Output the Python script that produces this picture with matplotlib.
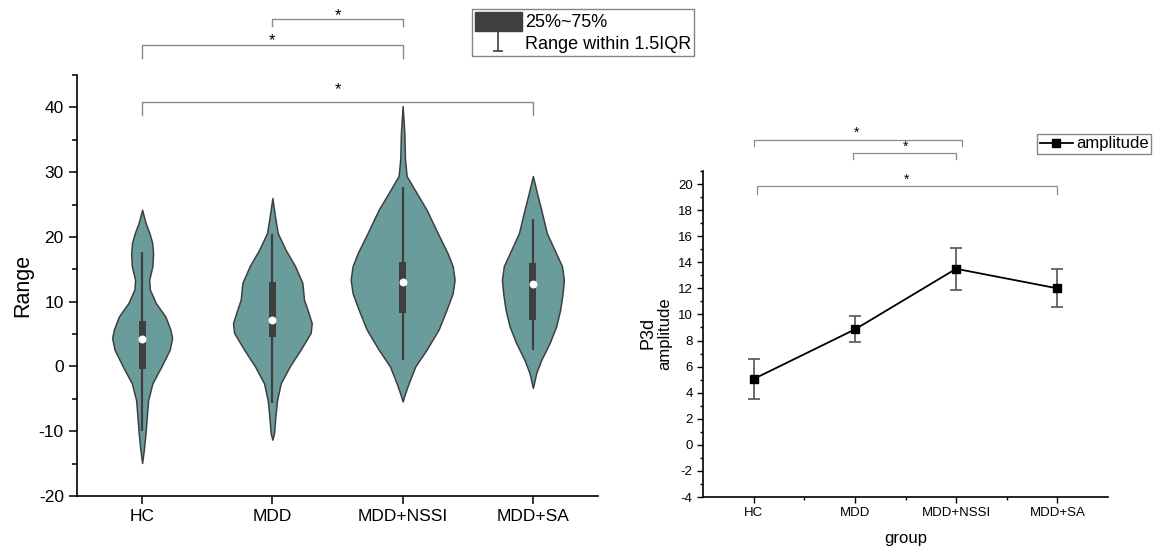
import matplotlib
matplotlib.use("Agg")
import matplotlib.pyplot as plt
import numpy as np
from matplotlib.lines import Line2D
from matplotlib.patches import Patch
from matplotlib.path import Path
from matplotlib.ticker import MultipleLocator, FixedLocator

plt.rcParams["font.family"] = ["Liberation Sans", "DejaVu Sans"]
plt.rcParams["axes.unicode_minus"] = False

GROUPS = ["HC", "MDD", "MDD+NSSI", "MDD+SA"]
VIOLIN = "#6a9c9b"
DARK = "#3f3f3f"
GREY = "#8a8a8a"

# violin outlines: y values and half-widths (category units)
hc_y = [-14.9, -12.9, -10.3, -7.7, -5.2, -2.6, 0.0, 2.6, 4.4, 5.7, 7.7, 9.8, 11.9, 13.4, 15.5, 17.5, 19.1, 20.6, 22.2, 24.2]
hc_w = [0, .013, .026, .036, .046, .079, .148, .212, .230, .217, .179, .105, .059, .054, .079, .084, .077, .056, .026, 0]
mdd_y = [-11.3, -10.3, -7.7, -5.2, -2.6, 0.0, 2.6, 5.2, 6.7, 8.8, 10.3, 12.9, 15.5, 18.0, 20.6, 23.2, 26.0]
mdd_w = [0, .013, .023, .036, .064, .133, .217, .294, .302, .269, .243, .230, .174, .102, .041, .020, 0]
nssi_y = [-5.4, -4.1, -2.6, 0.0, 2.6, 5.7, 8.8, 11.3, 13.4, 15.5, 17.5, 20.6, 24.2, 26.8, 29.4, 32.0, 36.1, 40.2]
nssi_w = [0, .020, .046, .097, .184, .276, .338, .384, .399, .384, .345, .269, .184, .107, .031, .018, .013, 0]
sa_y = [-3.3, -1.0, 1.0, 3.6, 6.2, 8.8, 11.3, 13.4, 15.5, 18.0, 20.6, 24.2, 26.8, 29.4]
sa_w = [0, .026, .064, .128, .179, .210, .228, .238, .223, .166, .107, .064, .031, 0]

# box summaries
q1 = [-0.4, 4.6, 8.3, 7.2]
q3 = [7.0, 13.1, 16.2, 16.0]
medians = [4.2, 7.2, 13.1, 12.7]
whisk_lo = [-10.0, -5.7, 1.0, 2.6]
whisk_hi = [17.6, 20.4, 27.7, 22.7]

# right panel: P3d amplitude
amp_mean = [5.05, 8.85, 13.5, 12.0]
amp_err = [1.55, 1.0, 1.6, 1.45]

fig = plt.figure(figsize=(11.63, 5.51), dpi=100)

# ---------------- left: violins ----------------
ax = fig.add_axes([0.0662, 0.0998, 0.4480, 0.764])
pos = np.arange(1, 5)
outlines = [(hc_y, hc_w), (mdd_y, mdd_w), (nssi_y, nssi_w), (sa_y, sa_w)]
stats = []
for (ys, ws), m, lo, hi in zip(outlines, medians, whisk_lo, whisk_hi):
    stats.append({"coords": np.array(ys), "vals": np.array(ws), "mean": m,
                  "median": m, "min": lo, "max": hi})
widths = [2 * max(ws) for _, ws in outlines]
parts = ax.violin(stats, positions=pos, widths=widths, showmeans=False,
                  showextrema=False, showmedians=False)
for body in parts["bodies"]:
    body.set_facecolor(VIOLIN)
    body.set_edgecolor(DARK)
    body.set_linewidth(1.1)
    body.set_alpha(1)
ax.vlines(pos, whisk_lo, whisk_hi, color=DARK, lw=1.6, zorder=3)
ax.bar(pos, np.array(q3) - np.array(q1), bottom=q1, width=0.055, color=DARK, zorder=4)
ax.scatter(pos, medians, s=22, color="white", zorder=5)

ax.set_xlim(0.5, 4.5)
ax.set_ylim(-20, 45)
ax.set_xticks(pos)
ax.set_xticklabels(GROUPS, fontsize=12.5)
ax.yaxis.set_major_locator(FixedLocator([-20, -10, 0, 10, 20, 30, 40]))
ax.yaxis.set_minor_locator(FixedLocator([-15, -5, 5, 15, 25, 35, 45]))
ax.tick_params(axis="both", which="major", length=6, width=1.1, labelsize=12.5, direction="out")
ax.tick_params(axis="y", which="minor", length=3.5, width=1.1)
ax.set_ylabel("Range", fontsize=15.5, labelpad=4)
for s in ["top", "right"]:
    ax.spines[s].set_visible(False)
for s in ["left", "bottom"]:
    ax.spines[s].set_linewidth(1.2)


# significance brackets
def bracket(a, x0, x1, y, drop, star_x, star_y, lw=1.0, fs=12):
    a.plot([x0, x0, x1, x1], [y - drop, y, y, y - drop], color=GREY, lw=lw, clip_on=False)
    a.text(star_x, star_y, "*", ha="center", va="center", fontsize=fs, clip_on=False)


bracket(ax, 2, 3, 53.6, 1.1, 2.5, 54.2)
bracket(ax, 1, 3, 49.7, 2.1, 2.0, 50.3)
bracket(ax, 1, 4, 40.8, 2.0, 2.5, 42.7)

iq = Path([(-0.5, 1), (0.5, 1), (0, 1), (0, -1), (-0.5, -1), (0.5, -1)],
          [Path.MOVETO, Path.LINETO, Path.MOVETO, Path.LINETO, Path.MOVETO, Path.LINETO])
h_box = Patch(facecolor=DARK, edgecolor=DARK)
h_rng = Line2D([], [], linestyle="none", marker=iq, markersize=14,
               markeredgecolor=DARK, markerfacecolor="none", markeredgewidth=1.2)
leg = fig.legend([h_box, h_rng], ["25%~75%", "Range within 1.5IQR"],
                 loc="upper left", bbox_to_anchor=(0.406, 0.984), fontsize=13,
                 frameon=True, fancybox=False, edgecolor="#666666",
                 handlelength=2.6, handleheight=1.3, handletextpad=0.2,
                 borderpad=0.15, labelspacing=0.1, borderaxespad=0)
leg.get_frame().set_linewidth(1.0)

# ---------------- right: amplitude ----------------
ax2 = fig.add_axes([0.6045, 0.098, 0.3482, 0.5917])
ax2.errorbar(pos, amp_mean, yerr=amp_err, color="black", lw=1.3, marker="s",
             markersize=6, ecolor="#555555", elinewidth=1.2, capsize=4, capthick=1.2)
ax2.set_xlim(0.5, 4.5)
ax2.set_ylim(-4, 21)
ax2.set_xticks(pos)
ax2.set_xticklabels(GROUPS, fontsize=9.5)
ax2.xaxis.set_minor_locator(FixedLocator([1.5, 2.5, 3.5]))
ax2.yaxis.set_major_locator(MultipleLocator(2))
ax2.yaxis.set_minor_locator(MultipleLocator(1))
ax2.tick_params(axis="both", which="major", length=4, width=1.0, labelsize=9.5, direction="out")
ax2.tick_params(axis="both", which="minor", length=2.5, width=1.0, direction="out")
ax2.set_xlabel("group", fontsize=12, labelpad=8)
for s in ["top", "right"]:
    ax2.spines[s].set_visible(False)
for s in ["left", "bottom"]:
    ax2.spines[s].set_linewidth(1.2)

fig.text(0.557, 0.395, "P3d", rotation=90, fontsize=13, ha="center", va="center")
fig.text(0.5715, 0.395, "amplitude", rotation=90, fontsize=12, ha="center", va="center")

bracket(ax2, 1.0, 3.06, 23.4, 0.45, 2.02, 23.9, lw=0.9, fs=10)
bracket(ax2, 1.98, 3.0, 22.35, 0.45, 2.5, 22.85, lw=0.9, fs=10)
bracket(ax2, 1.03, 4.0, 19.85, 0.6, 2.51, 20.35, lw=0.9, fs=10)

h_amp = Line2D([], [], color="black", lw=1.3, marker="s", markersize=6)
leg2 = ax2.legend([h_amp], ["amplitude"], loc="upper left", bbox_to_anchor=(0.8917, 0.757),
                  bbox_transform=fig.transFigure, fontsize=12, frameon=True,
                  fancybox=False, edgecolor="#666666", handlelength=2.0,
                  handletextpad=0.2, borderpad=0.15, borderaxespad=0)
leg2.get_frame().set_linewidth(1.0)

fig.savefig("out.png", dpi=100, facecolor="white")
